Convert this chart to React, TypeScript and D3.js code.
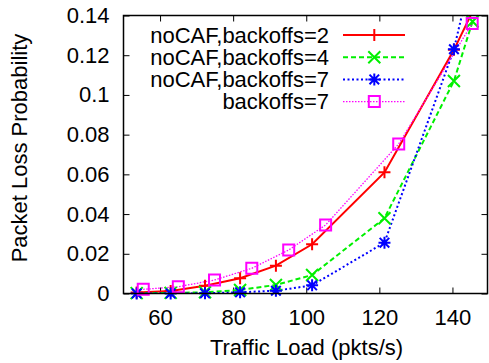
import React, { useEffect, useRef } from "react";
import * as d3 from "d3";

// traffic load (pkts/s) for the noCAF runs and for the CAF run
const loadNoCaf = [53.6, 62.9, 72.3, 81.9, 91.7, 101.6, 121.4, 140.4, 145.5];
const loadCaf = [55.4, 65, 74.9, 85.1, 95.2, 105.3, 125.3, 145.4];

// packet loss probability
const lossNoCafB2 = [0.0005, 0.0013, 0.0039, 0.0077, 0.014, 0.0248, 0.061, 0.1227, 0.142];
const lossNoCafB4 = [0.0002, 0.0003, 0.0006, 0.0018, 0.0043, 0.0093, 0.0379, 0.107, 0.137];
const lossNoCafB7 = [0.0, 0.0, 0.0001, 0.0006, 0.0014, 0.0041, 0.0256, 0.123, 0.163];
const lossCafB7 = [0.0021, 0.0034, 0.0068, 0.0127, 0.0219, 0.0345, 0.0753, 0.136];

const xTicks = [60, 80, 100, 120, 140];
const yTicks = [0, 0.02, 0.04, 0.06, 0.08, 0.1, 0.12, 0.14];

const seriesNames = ["noCAF,backoffs=2", "noCAF,backoffs=4", "noCAF,backoffs=7", "backoffs=7"];

const W = 489;
const H = 363;
const FONT = "'Liberation Sans', Arial, Helvetica, sans-serif";
const FS = 22;

const plot = { left: 123.5, right: 487.5, top: 15.5, bottom: 293.5 };

const x = d3.scaleLinear().domain([50, 150]).range([plot.left, 489]);
const y = d3.scaleLinear().domain([0, 0.14]).range([plot.bottom, plot.top]);

const series = [
  { name: seriesNames[0], xs: loadNoCaf, ys: lossNoCafB2, color: "#ff0000", dash: null, width: 2, marker: "plus" },
  { name: seriesNames[1], xs: loadNoCaf, ys: lossNoCafB4, color: "#00f000", dash: "5,3", width: 2, marker: "cross" },
  { name: seriesNames[2], xs: loadNoCaf, ys: lossNoCafB7, color: "#0000ff", dash: "2,2.5", width: 2, marker: "star" },
  { name: seriesNames[3], xs: loadCaf, ys: lossCafB7, color: "#ff00ff", dash: "1.5,1.5", width: 1.3, marker: "square" },
];

function markerPath(kind: string, cx: number, cy: number) {
  const r = 6;
  const p = d3.path();
  if (kind === "plus" || kind === "star") {
    p.moveTo(cx - r, cy); p.lineTo(cx + r, cy);
    p.moveTo(cx, cy - r); p.lineTo(cx, cy + r);
  }
  if (kind === "cross" || kind === "star") {
    const q = kind === "star" ? r * 0.8 : r;
    p.moveTo(cx - q, cy - q); p.lineTo(cx + q, cy + q);
    p.moveTo(cx - q, cy + q); p.lineTo(cx + q, cy - q);
  }
  if (kind === "square") {
    p.rect(cx - 5.5, cy - 5.5, 11, 11);
  }
  return p.toString();
}

export default function App() {
  const axesRef = useRef<SVGGElement>(null);

  useEffect(() => {
    const g = d3.select(axesRef.current);
    g.selectAll("*").remove();
    const fmt = (d: any) => String(+(+d).toFixed(2));

    g.append("g").attr("transform", `translate(0,${plot.bottom})`)
      .call(d3.axisBottom(x).tickValues(xTicks).tickSize(-6).tickPadding(16).tickFormat(fmt as any));
    g.append("g").attr("transform", `translate(${plot.left},0)`)
      .call(d3.axisLeft(y).tickValues(yTicks).tickSize(-6).tickPadding(14).tickFormat(fmt as any));
    g.append("g").attr("transform", `translate(0,${plot.top})`)
      .call(d3.axisTop(x).tickValues(xTicks).tickSize(-6).tickFormat(() => ""));
    g.append("g").attr("transform", `translate(${plot.right},0)`)
      .call(d3.axisRight(y).tickValues(yTicks).tickSize(-6).tickFormat(() => ""));

    g.selectAll(".domain").remove();
    g.selectAll(".tick line").attr("stroke", "#000").attr("stroke-width", 1);
    g.selectAll("text").attr("font-family", FONT).attr("font-size", FS).attr("fill", "#000");
  }, []);

  const line = d3.line<[number, number]>().x(d => x(d[0])).y(d => y(d[1]));

  const legendX = 329;
  const legendY0 = 35;
  const legendDy = 22.2;

  return (
    <svg width={W} height={H} style={{ position: "absolute", left: 0, top: 0, background: "#fff" }}>
      <defs>
        <clipPath id="plotClip">
          <rect x={plot.left} y={plot.top} width={plot.right - plot.left} height={plot.bottom - plot.top} />
        </clipPath>
      </defs>
      <rect width={W} height={H} fill="#fff" />
      <g ref={axesRef} />

      {/* legend */}
      {series.map((s, i) => {
        const ly = legendY0 + i * legendDy;
        return (
          <g key={s.name}>
            <text x={legendX} y={ly} dy="0.35em" textAnchor="end" fontFamily={FONT} fontSize={FS} fill="#000">
              {s.name}
            </text>
            <line x1={343} x2={405} y1={ly} y2={ly} stroke={s.color} strokeWidth={s.width}
              strokeDasharray={s.dash ?? undefined} />
            <path d={markerPath(s.marker, 374.3, ly)} fill="none" stroke={s.color} strokeWidth={2} />
          </g>
        );
      })}

      {/* series */}
      <g clipPath="url(#plotClip)">
        {series.map(s => {
          const pts = s.xs.map((v, i) => [v, s.ys[i]] as [number, number]);
          return (
            <path key={s.name} d={line(pts) ?? ""} fill="none" stroke={s.color} strokeWidth={s.width}
              strokeDasharray={s.dash ?? undefined} />
          );
        })}
      </g>
      {series.map(s => (
        <g key={s.name + "-m"}>
          {s.xs.map((v, i) => s.ys[i] <= 0.14 ? (
            <path key={i} d={markerPath(s.marker, x(v), y(s.ys[i]))} fill="none" stroke={s.color} strokeWidth={2} />
          ) : null)}
        </g>
      ))}

      {/* frame */}
      <rect x={plot.left} y={plot.top} width={plot.right - plot.left} height={plot.bottom - plot.top}
        fill="none" stroke="#000" strokeWidth={1.5} />

      {/* axis titles */}
      <text x={306.5} y={355} textAnchor="middle" fontFamily={FONT} fontSize={FS} fill="#000">
        Traffic Load (pkts/s)
      </text>
      <text transform="translate(27,148) rotate(-90)" textAnchor="middle" fontFamily={FONT} fontSize={FS} fill="#000">
        Packet Loss Probability
      </text>
    </svg>
  );
}
